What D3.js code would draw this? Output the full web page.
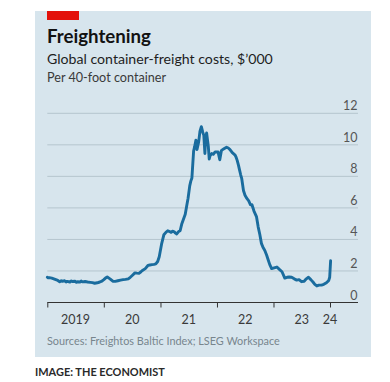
<!DOCTYPE html>
<html><head><meta charset="utf-8">
<script src="https://cdn.jsdelivr.net/npm/d3@7"></script>
<style>html,body{margin:0;padding:0;background:#fff;}svg{display:block;font-family:Lato,"Open Sans",sans-serif;}</style>
</head><body>
<script>
const dates = ["2019-01-01","2019-01-08","2019-01-15","2019-01-30","2019-02-12","2019-02-25","2019-03-10","2019-03-22","2019-04-01","2019-04-08","2019-04-23","2019-05-02","2019-05-10","2019-05-27","2019-06-05","2019-06-12","2019-06-29","2019-07-08","2019-07-15","2019-07-31","2019-08-09","2019-08-16","2019-09-02","2019-09-18","2019-10-05","2019-10-20","2019-11-03","2019-11-20","2019-12-06","2019-12-20",
"2020-01-01","2020-01-12","2020-01-23","2020-02-10","2020-02-28","2020-03-15","2020-04-01","2020-04-18","2020-05-05","2020-05-20","2020-06-07","2020-06-20","2020-07-01","2020-07-20","2020-08-01","2020-08-15","2020-08-28","2020-09-09","2020-09-25","2020-10-12","2020-10-25","2020-11-07","2020-11-20","2020-12-02","2020-12-14","2020-12-24",
"2021-01-08","2021-01-23","2021-02-05","2021-02-17","2021-03-01","2021-03-11","2021-03-20","2021-03-29","2021-04-08","2021-04-16","2021-04-28","2021-05-08","2021-05-19","2021-05-30","2021-06-10","2021-06-19","2021-06-28","2021-07-09","2021-07-16","2021-07-23","2021-08-03","2021-08-10","2021-08-18","2021-08-25","2021-09-05","2021-09-13","2021-09-22","2021-10-01","2021-10-08","2021-10-15","2021-10-20","2021-10-26","2021-11-06","2021-11-12","2021-11-17","2021-11-28","2021-12-08","2021-12-20",
"2022-01-08","2022-01-19","2022-01-30","2022-02-15","2022-03-04","2022-03-15","2022-03-26","2022-04-10","2022-04-28","2022-05-05","2022-05-12","2022-05-20","2022-05-27","2022-06-03","2022-06-10","2022-06-21","2022-07-01","2022-07-13","2022-07-25","2022-08-05","2022-08-15","2022-08-28","2022-09-13","2022-09-24","2022-10-05","2022-10-15","2022-10-25","2022-11-06","2022-11-18","2022-11-28","2022-12-08","2022-12-20",
"2023-01-05","2023-01-23","2023-02-08","2023-02-25","2023-03-15","2023-03-30","2023-04-12","2023-04-28","2023-05-15","2023-05-31","2023-06-15","2023-07-01","2023-07-18","2023-08-01","2023-08-15","2023-08-30","2023-09-13","2023-09-25","2023-10-08","2023-10-22","2023-11-07","2023-11-22","2023-12-09","2023-12-24","2023-12-30","2024-01-05"];
const values = [1.6,1.56,1.58,1.55,1.5,1.45,1.4,1.32,1.38,1.34,1.38,1.3,1.34,1.3,1.37,1.33,1.35,1.28,1.32,1.3,1.36,1.31,1.33,1.3,1.28,1.26,1.22,1.25,1.3,1.36,
1.45,1.55,1.62,1.5,1.35,1.34,1.38,1.42,1.45,1.47,1.5,1.6,1.7,1.88,1.86,1.85,1.95,2.05,2.15,2.35,2.38,2.4,2.42,2.45,2.6,2.9,
3.7,4.3,4.45,4.55,4.5,4.45,4.52,4.5,4.4,4.35,4.5,4.55,5.0,5.3,5.6,6.1,6.6,7.4,7.7,7.9,9.6,9.9,10.3,9.7,10.2,10.85,11.15,10.8,10.6,9.45,10.5,10.75,9.9,9.1,9.3,9.45,9.4,9.55,
9.55,9.05,9.65,9.75,9.85,9.8,9.7,9.5,9.35,9.2,9.0,8.7,8.4,8.1,7.85,7.1,6.8,6.6,6.45,6.2,6.2,5.8,5.45,4.8,4.3,3.75,3.5,3.3,3.0,2.7,2.4,2.15,
2.2,2.25,2.1,1.95,1.55,1.6,1.62,1.6,1.5,1.42,1.45,1.32,1.35,1.5,1.6,1.45,1.3,1.15,1.05,1.1,1.1,1.15,1.25,1.4,1.6,2.65];
const yTicks = [0,2,4,6,8,10,12];
const yearTicks = ["2019","2020","2021","2022","2023","2024"];
const yearLabels = ["2019","20","21","22","23","24"];
const labelDates = ["2019-07-02","2020-07-02","2021-07-02","2022-07-02","2023-07-02","2024-01-01"];

const parse = d3.timeParse("%Y-%m-%d");
const data = dates.map((d,i)=>({date:parse(d), v:values[i]}));

const W=390,H=382;
const svg = d3.select("body").append("svg").attr("width",W).attr("height",H);
svg.append("rect").attr("x",35).attr("y",11).attr("width",336).attr("height",346).attr("fill","#d7e5ed");
svg.append("rect").attr("x",47).attr("y",11).attr("width",32).attr("height",9).attr("fill","#e3120b");

function fit(t, w){ const n=t.node(); const cur=n.getComputedTextLength(); const fs=parseFloat(t.attr("font-size")); t.attr("font-size", (fs*w/cur).toFixed(2)); }
const title = svg.append("text").attr("x",47).attr("y",43).attr("font-size",17).attr("font-weight",700).attr("fill","#121212").text("Freightening");
fit(title,104);
const sub = svg.append("text").attr("x",47).attr("y",64).attr("font-size",14.5).attr("fill","#1e1e1e").text("Global container-freight costs, $’000");
fit(sub,226);
const sub2 = svg.append("text").attr("x",47).attr("y",82).attr("font-size",12).attr("fill","#3a3a3a").text("Per 40-foot container");
fit(sub2,119);

const x = d3.scaleTime().domain([parse("2019-01-01"),parse("2024-01-01")]).range([47.3,330]);
const y = d3.scaleLinear().domain([0,12]).range([302.5,113.3]);

const g = svg.append("g");
g.selectAll("line.grid").data(yTicks.filter(d=>d>0)).join("line").attr("class","grid")
 .attr("x1",47.3).attr("x2",358).attr("y1",d=>y(d)).attr("y2",d=>y(d)).attr("stroke","#b5c5ce").attr("stroke-width",1);
g.selectAll("text.yl").data(yTicks).join("text").attr("class","yl")
 .attr("x",357.5).attr("y",d=>y(d)-3).attr("text-anchor","end").attr("font-size",12.5).attr("fill","#555").text(d=>d);

const xAxis = d3.axisBottom(x).tickValues(yearTicks.map(s=>parse(s+"-01-01"))).tickSize(5).tickFormat("");
const ax = svg.append("g").attr("transform",`translate(0,${y(0)})`).call(xAxis);
ax.select(".domain").remove();
ax.selectAll(".tick line").attr("stroke","#333").attr("stroke-width",1);
svg.append("line").attr("x1",47.3).attr("x2",358).attr("y1",y(0)).attr("y2",y(0)).attr("stroke","#333").attr("stroke-width",1);
svg.selectAll("text.xl").data(yearLabels).join("text").attr("class","xl")
 .attr("x",(d,i)=>x(parse(labelDates[i]))).attr("y",323.5).attr("text-anchor","middle").attr("font-size",12.5).attr("fill","#3a3a3a").text(d=>d);

const line = d3.line().x(d=>x(d.date)).y(d=>y(d.v)).curve(d3.curveLinear);
svg.append("path").datum(data).attr("d",line).attr("fill","none").attr("stroke","#1a6c9e").attr("stroke-width",2.9).attr("stroke-linejoin","round").attr("stroke-linecap","round");

const src = svg.append("text").attr("x",47).attr("y",345).attr("font-size",11.5).attr("fill","#77858d").text("Sources: Freightos Baltic Index; LSEG Workspace");
fit(src,233);
const img = svg.append("text").attr("x",35).attr("y",376).attr("font-size",10).attr("font-weight",700).attr("fill","#2a2a2a").text("IMAGE: THE ECONOMIST");
fit(img,130);
</script>
</body></html>
